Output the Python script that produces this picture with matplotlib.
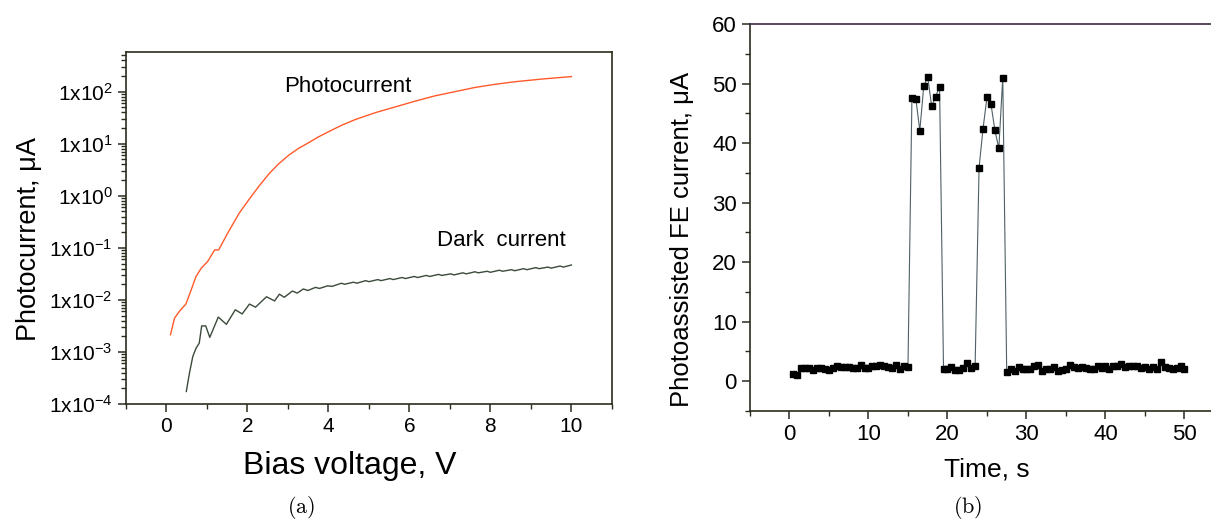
import numpy as np
import matplotlib
matplotlib.use('Agg')
import matplotlib.pyplot as plt
from matplotlib.ticker import LogLocator, FuncFormatter, MultipleLocator, NullFormatter

plt.rcParams['font.family'] = ['Liberation Sans', 'DejaVu Sans']
plt.rcParams['mathtext.fontset'] = 'custom'
plt.rcParams['mathtext.rm'] = 'Liberation Sans'
plt.rcParams['mathtext.it'] = 'Liberation Sans:italic'

### (a) photocurrent and dark current vs bias voltage
photo_v = [0.1, 0.2, 0.32, 0.48, 0.61, 0.73, 0.86, 1.02, 1.19, 1.29, 1.51, 1.80, 2.03,
           2.28, 2.54, 2.78, 3.02, 3.26, 3.51, 3.75, 4.0, 4.34, 4.68, 5.17, 5.66, 6.15,
           6.63, 7.12, 7.61, 8.1, 8.59, 9.3, 10.0]
photo_log = [-2.67, -2.35, -2.22, -2.08, -1.81, -1.55, -1.39, -1.26, -1.04, -1.04, -0.72,
             -0.33, -0.08, 0.18, 0.43, 0.62, 0.78, 0.91, 1.02, 1.13, 1.23, 1.36, 1.47,
             1.60, 1.71, 1.82, 1.92, 2.00, 2.08, 2.14, 2.19, 2.245, 2.29]

dark_v = [0.49, 0.57, 0.65, 0.73, 0.81, 0.87, 0.97, 1.07, 1.28, 1.48, 1.70, 1.87, 2.05,
          2.20, 2.47, 2.67, 2.79, 2.91, 3.11, 3.23, 3.38, 3.49, 3.68, 3.78, 3.98, 4.09,
          4.32, 4.40, 4.62, 4.70, 4.92, 5.00, 5.22, 5.30, 5.52, 5.60, 5.82, 5.90, 6.12,
          6.20, 6.42, 6.50, 6.72, 6.80, 7.02, 7.10, 7.32, 7.40, 7.62, 7.70, 7.92, 8.00,
          8.22, 8.30, 8.52, 8.60, 8.82, 8.90, 9.12, 9.20, 9.42, 9.50, 9.72, 9.80, 10.0]
dark_log = [-3.76, -3.40, -3.09, -2.93, -2.83, -2.50, -2.50, -2.72, -2.33, -2.47, -2.19,
            -2.27, -2.08, -2.14, -1.94, -2.02, -1.89, -1.95, -1.83, -1.87, -1.79, -1.82,
            -1.76, -1.78, -1.73, -1.74, -1.68, -1.70, -1.66, -1.68, -1.63, -1.65, -1.61,
            -1.63, -1.59, -1.61, -1.57, -1.59, -1.55, -1.57, -1.53, -1.55, -1.51, -1.53,
            -1.50, -1.52, -1.48, -1.50, -1.46, -1.48, -1.45, -1.47, -1.43, -1.45, -1.42,
            -1.44, -1.40, -1.42, -1.38, -1.40, -1.37, -1.39, -1.35, -1.37, -1.33]

### (b) photoassisted FE current vs time
time_s = [0.5 * k for k in range(1, 101)]
fe_current = [1.2, 1.1, 2.2, 2.2, 2.2, 1.9, 2.2, 2.3, 2.0, 1.9,
              2.2, 2.6, 2.4, 2.4, 2.4, 2.3, 2.3, 2.7, 2.3, 2.2,
              2.5, 2.6, 2.7, 2.6, 2.4, 2.2, 2.7, 2.1, 2.6, 2.4,
              47.5, 47.4, 42.1, 49.6, 51.1, 46.2, 47.8, 49.5,
              2.0, 2.1, 2.4, 1.96, 1.96, 2.2, 3.0, 2.2, 2.5,
              35.9, 42.4, 47.7, 46.6, 42.2, 39.1, 51.0,
              1.6, 2.0, 1.7, 2.4, 2.1, 2.0, 2.0, 2.6, 2.7, 1.8,
              2.0, 2.1, 2.4, 1.8, 1.9, 2.1, 2.8, 2.4, 2.2, 2.4,
              2.3, 2.0, 2.1, 2.6, 2.3, 2.6, 2.0, 2.5, 2.5, 2.9,
              2.4, 2.5, 2.6, 2.5, 2.3, 2.4, 2.0, 2.4, 2.1, 3.2,
              2.4, 2.3, 2.0, 2.3, 2.5, 2.0]

spine_col = '#2b2b1e'
fig = plt.figure(figsize=(12.11, 5.25), dpi=100)

ax1 = fig.add_axes([0.1040, 0.2305, 0.4013, 0.6705])
ax1.plot(photo_v, 10 ** np.array(photo_log), color='#ff5a2a', lw=1.0)
ax1.plot(dark_v, 10 ** np.array(dark_log), color='#3b4a3b', lw=1.0)
ax1.set_yscale('log')
ax1.set_xlim(-1, 11)
ax1.set_ylim(1e-4, 10 ** 2.763)
ax1.xaxis.set_major_locator(MultipleLocator(2))
ax1.xaxis.set_minor_locator(MultipleLocator(1))
ax1.yaxis.set_major_locator(LogLocator(base=10, numticks=20))
ax1.yaxis.set_minor_locator(LogLocator(base=10, subs=np.arange(2, 10), numticks=20))
ax1.yaxis.set_minor_formatter(NullFormatter())
ax1.yaxis.set_major_formatter(FuncFormatter(
    lambda v, p: '$\\mathregular{1x10^{%d}}$' % int(round(np.log10(v)))))
ax1.set_xlabel('Bias voltage, V', fontsize=23)
ax1.xaxis.set_label_coords(0.46, -0.133)
ax1.set_ylabel('Photocurrent, μA', fontsize=19.5)
ax1.yaxis.set_label_coords(-0.173, 0.469)
ax1.text(2.9, 125, 'Photocurrent', fontsize=16, va='center')
ax1.text(6.67, 0.14, 'Dark  current', fontsize=16, va='center')

ax2 = fig.add_axes([0.6193, 0.2171, 0.3914, 0.7371])
ax2.plot(time_s, fe_current, color='#4f6066', lw=0.8, marker='s', ms=4,
         mfc='black', mec='black')
ax2.set_xlim(-5, 55)
ax2.set_ylim(-5, 60)
ax2.xaxis.set_major_locator(MultipleLocator(10))
ax2.xaxis.set_minor_locator(MultipleLocator(5))
ax2.yaxis.set_major_locator(MultipleLocator(10))
ax2.yaxis.set_minor_locator(MultipleLocator(5))
ax2.set_xlabel('Time, s', fontsize=19, labelpad=9)
ax2.set_ylabel('Photoassisted FE current, μA', fontsize=18.5)
ax2.yaxis.set_label_coords(-0.118, 0.444)
ax2.spines['top'].set_color('#3a2a40')

for ax, ls in ((ax1, 15), (ax2, 16)):
    for s in ax.spines.values():
        s.set_linewidth(1.2)
        if s is not ax2.spines['top']:
            s.set_color(spine_col)
    ax.tick_params(which='both', direction='out', colors=spine_col, labelcolor='black',
                   labelsize=ls, top=False, right=False)
    ax.tick_params(which='major', length=6, width=1.1)
    ax.tick_params(which='minor', length=3.5, width=1.0)

fig.text(0.249, 0.022, r'$\mathrm{(a)}$', math_fontfamily='cm', fontsize=16, ha='center')
fig.text(0.799, 0.022, r'$\mathrm{(b)}$', math_fontfamily='cm', fontsize=16, ha='center')

plt.savefig('out.png', dpi=100)
